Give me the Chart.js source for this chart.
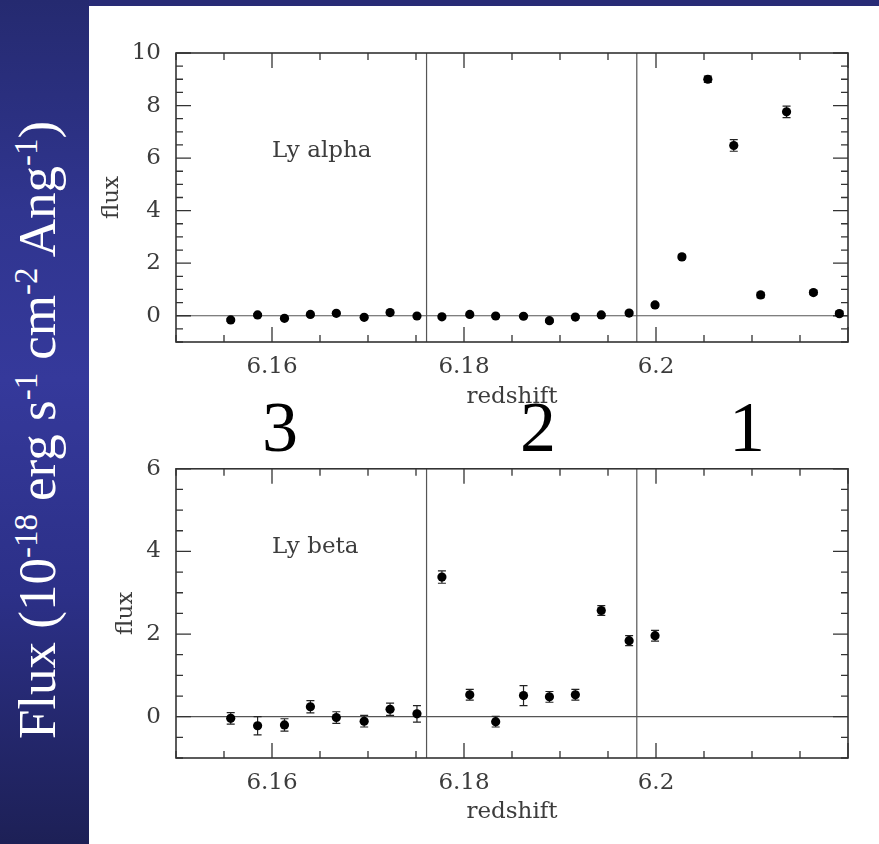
<!DOCTYPE html>
<html>
<head>
<meta charset="utf-8">
<script src="https://cdn.jsdelivr.net/npm/chart.js@4.4.0/dist/chart.umd.min.js"></script>
<style>
  body { margin: 0; background: #fff; }
  #page { position: relative; width: 879px; height: 844px; overflow: hidden; background: #fff; }
  #band { position: absolute; left: 0; top: 0; width: 89px; height: 844px;
          background: linear-gradient(to bottom, #252a70 0%, #30358f 25%, #35399b 45%, #2c3088 70%, #1d2056 100%); }
  #strip { position: absolute; left: 89px; top: 0; width: 790px; height: 6px; background: #282b76; }
  #ylabel { position: absolute; left: 37px; top: 430px; transform: translate(-50%, -50%) rotate(-90deg);
            white-space: nowrap; color: #fff; font-family: "Liberation Serif", serif; font-size: 53px; }
  #ylabel sup { font-size: 0.62em; vertical-align: 0.55em; line-height: 0; }
  .zone { position: absolute; font-family: "Liberation Serif", serif; font-size: 72px; color: #000;
          transform: translate(-50%, -50%); line-height: 1; }
  canvas { position: absolute; }
</style>
</head>
<body>
<div id="page">
  <div id="band"></div>
  <div id="strip"></div>
  <div id="ylabel">Flux (10<sup>-18</sup> erg s<sup>-1</sup> cm<sup>-2</sup> Ang<sup>-1</sup>)</div>
  <div class="zone" style="left:280px; top:427px;">3</div>
  <div class="zone" style="left:538px; top:427px;">2</div>
  <div class="zone" style="left:747px; top:427px;">1</div>
  <canvas id="chartAlpha" width="790" height="440" style="left:89px; top:0px;"></canvas>
  <canvas id="chartBeta" width="790" height="404" style="left:89px; top:440px;"></canvas>
</div>
<script>
// donnees
const redshift = [6.1557, 6.1585, 6.1613, 6.1640, 6.1667, 6.1696, 6.1723, 6.1751,
                  6.1777, 6.1806, 6.1833, 6.1862, 6.1889, 6.1916, 6.1943, 6.1972,
                  6.1999, 6.2027, 6.2054, 6.2081, 6.2109, 6.2136, 6.2164, 6.2191];
const fluxAlpha = [-0.16, 0.03, -0.10, 0.05, 0.09, -0.06, 0.12, -0.01,
                   -0.04, 0.05, -0.01, -0.02, -0.19, -0.05, 0.03, 0.10,
                   0.41, 2.24, 9.00, 6.48, 0.79, 7.76, 0.88, 0.08];
const errAlpha = [0.06, 0.05, 0.05, 0.05, 0.05, 0.05, 0.05, 0.05,
                  0.05, 0.05, 0.05, 0.05, 0.06, 0.05, 0.05, 0.06,
                  0.07, 0.08, 0.12, 0.22, 0.10, 0.22, 0.08, 0.08];
const fluxBeta = [-0.04, -0.22, -0.20, 0.24, -0.02, -0.11, 0.18, 0.07,
                  3.38, 0.53, -0.12, 0.51, 0.48, 0.53, 2.57, 1.84, 1.96];
const errBeta = [0.14, 0.22, 0.15, 0.15, 0.14, 0.14, 0.15, 0.20,
                 0.15, 0.13, 0.13, 0.24, 0.13, 0.13, 0.12, 0.12, 0.13];
const regionEdges = [6.1761, 6.1980];
const xTickLabels = [6.16, 6.18, 6.2];
const yTicksAlpha = [0, 2, 4, 6, 8, 10];
const yTicksBeta = [0, 2, 4, 6];

const axisFont = { family: 'DejaVu Serif', size: 23 };
const axisColor = '#3c3c3c';

// cadre, graduations, lignes de separation, barres d'erreur
const framePlugin = {
  id: 'frame',
  beforeDatasetsDraw(chart, args, opts) {
    const ctx = chart.ctx;
    const a = chart.chartArea;
    const sx = chart.scales.x, sy = chart.scales.y;
    ctx.save();
    // ligne zero + limites des regions
    ctx.strokeStyle = '#555';
    ctx.lineWidth = 1.2;
    ctx.beginPath();
    let y0 = sy.getPixelForValue(0);
    ctx.moveTo(a.left, y0); ctx.lineTo(a.right, y0);
    regionEdges.forEach(z => {
      let px = sx.getPixelForValue(z);
      ctx.moveTo(px, a.top); ctx.lineTo(px, a.bottom);
    });
    ctx.stroke();

    // graduations
    ctx.strokeStyle = '#333';
    ctx.lineWidth = 1.3;
    ctx.beginPath();
    for (let i = 0; ; i++) {
      let v = sx.min + i * 0.005;
      if (v > sx.max + 1e-9) break;
      let px = sx.getPixelForValue(v);
      let major = Math.abs(v / 0.02 - Math.round(v / 0.02)) < 1e-6;
      let len = major ? 15 : 7;
      ctx.moveTo(px, a.bottom); ctx.lineTo(px, a.bottom - len);
      ctx.moveTo(px, a.top); ctx.lineTo(px, a.top + len);
    }
    for (let i = 0; ; i++) {
      let v = sy.min + i * 0.5;
      if (v > sy.max + 1e-9) break;
      let py = sy.getPixelForValue(v);
      let major = Math.abs(v / 2 - Math.round(v / 2)) < 1e-6;
      let len = major ? 15 : 7;
      ctx.moveTo(a.left, py); ctx.lineTo(a.left + len, py);
      ctx.moveTo(a.right, py); ctx.lineTo(a.right - len, py);
    }
    ctx.stroke();

    ctx.lineWidth = 1.6;
    ctx.strokeRect(a.left, a.top, a.right - a.left, a.bottom - a.top);

    // barres d'erreur
    ctx.strokeStyle = '#222';
    ctx.lineWidth = 1.2;
    chart.data.datasets.forEach(ds => {
      ds.data.forEach((p, i) => {
        let e = ds.errors[i];
        let px = sx.getPixelForValue(p.x);
        let yt = sy.getPixelForValue(p.y + e);
        let yb = sy.getPixelForValue(p.y - e);
        ctx.beginPath();
        ctx.moveTo(px, yt); ctx.lineTo(px, yb);
        ctx.moveTo(px - 4, yt); ctx.lineTo(px + 4, yt);
        ctx.moveTo(px - 4, yb); ctx.lineTo(px + 4, yb);
        ctx.stroke();
      });
    });

    // nom de la raie
    ctx.fillStyle = axisColor;
    ctx.font = '23px "DejaVu Serif"';
    ctx.textBaseline = 'middle';
    ctx.textAlign = 'left';
    ctx.fillText(opts.text, a.left + 96, a.top + opts.textY);
    ctx.restore();
  }
};

function makeChart(id, flux, errs, yMax, yTicks, label, pad, xHeight, titleBottom, titleLeft, textY) {
  const points = flux.map((f, i) => ({ x: redshift[i], y: f }));
  return new Chart(document.getElementById(id), {
    type: 'scatter',
    data: {
      datasets: [{
        data: points,
        errors: errs,
        pointRadius: 4.6,
        pointHoverRadius: 4.6,
        backgroundColor: '#000',
        borderWidth: 0
      }]
    },
    options: {
      responsive: false,
      animation: false,
      layout: { padding: pad },
      plugins: {
        legend: { display: false },
        tooltip: { enabled: false },
        frame: { text: label, textY: textY }
      },
      scales: {
        x: {
          type: 'linear', min: 6.15, max: 6.22,
          afterBuildTicks: s => { s.ticks = xTickLabels.map(v => ({ value: v })); },
          afterFit: s => { s.height = xHeight; },
          grid: { display: false, drawTicks: false },
          border: { display: false },
          ticks: { padding: 11, font: axisFont, color: axisColor, maxRotation: 0,
                   callback: v => String(+v.toFixed(3)) },
          title: { display: true, text: 'redshift', font: axisFont, color: axisColor,
                   padding: { top: 0, bottom: titleBottom } }
        },
        y: {
          type: 'linear', min: -1, max: yMax,
          afterBuildTicks: s => { s.ticks = yTicks.map(v => ({ value: v })); },
          afterFit: s => { s.width = 87; },
          grid: { display: false, drawTicks: false },
          border: { display: false },
          ticks: { padding: 15, font: axisFont, color: axisColor },
          title: { display: true, text: 'flux', font: axisFont, color: axisColor,
                   padding: { top: titleLeft, bottom: 0 } }
        }
      }
    },
    plugins: [framePlugin]
  });
}

makeChart('chartAlpha', fluxAlpha, errAlpha, 10, yTicksAlpha, 'Ly alpha',
          { top: 53, right: 31, left: 0, bottom: 0 }, 98, 29, 9, 98);
makeChart('chartBeta', fluxBeta, errBeta, 6, yTicksBeta, 'Ly beta',
          { top: 27, right: 31, left: 0, bottom: 0 }, 86, 18, 23, 78);
</script>
</body>
</html>
